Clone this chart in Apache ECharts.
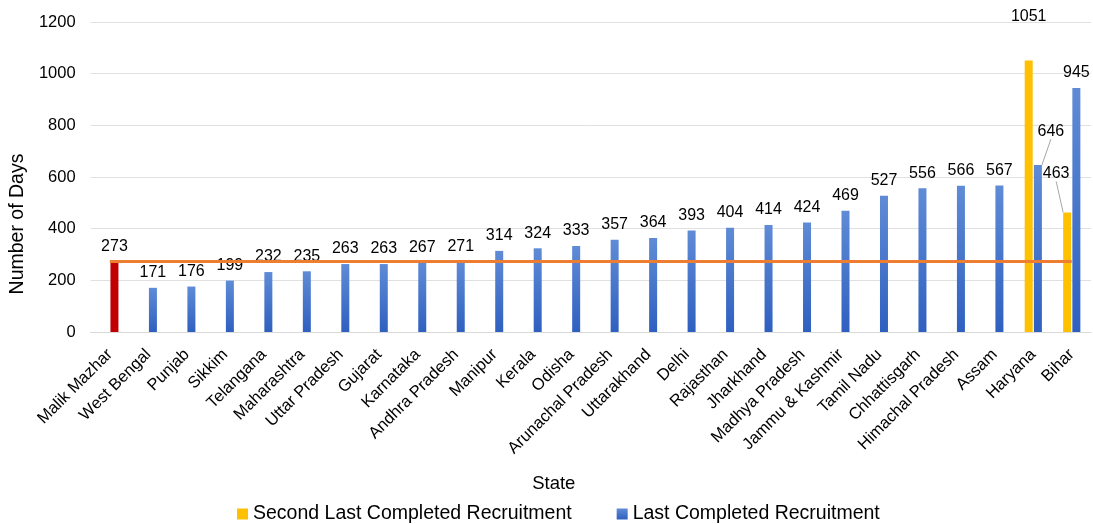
<!DOCTYPE html>
<html>
<head>
<meta charset="utf-8">
<script src="https://cdn.jsdelivr.net/npm/echarts@6/dist/echarts.min.js"></script>
<style>
  html, body { margin: 0; padding: 0; background: #fff; }
  #chart { width: 1093px; height: 524px; }
</style>
</head>
<body>
<div id="chart"></div>
<script>
var states = ['Malik Mazhar', 'West Bengal', 'Punjab', 'Sikkim', 'Telangana', 'Maharashtra',
    'Uttar Pradesh', 'Gujarat', 'Karnataka', 'Andhra Pradesh', 'Manipur', 'Kerala', 'Odisha',
    'Arunachal Pradesh', 'Uttarakhand', 'Delhi', 'Rajasthan', 'Jharkhand', 'Madhya Pradesh',
    'Jammu & Kashmir', 'Tamil Nadu', 'Chhattisgarh', 'Himachal Pradesh', 'Assam', 'Haryana', 'Bihar'];
var lastCompleted = [273, 171, 176, 199, 232, 235, 263, 263, 267, 271, 314, 324, 333, 357, 364,
    393, 404, 414, 424, 469, 527, 556, 566, 567, 646, 945];
var secondLast = ['-', '-', '-', '-', '-', '-', '-', '-', '-', '-', '-', '-', '-', '-', '-',
    '-', '-', '-', '-', '-', '-', '-', '-', '-', 1051, 463];
var benchmark = 273; // Malik Mazhar timeline
var yTicks = [0, 200, 400, 600, 800, 1000, 1200];

var font = 'Liberation Sans, Arial, sans-serif';
var blueGrad = new echarts.graphic.LinearGradient(0, 0, 0, 1, [
    { offset: 0, color: '#5f8bd6' },
    { offset: 1, color: '#2f60c0' }
]);
var leader = { show: true, lineStyle: { color: '#a6a6a6', width: 1 } };

var dom = document.getElementById('chart');
var myChart = echarts.init(dom);

var option = {
    animation: false,
    textStyle: { fontFamily: font },
    grid: { left: 87, right: 2, top: 22, bottom: 192 },
    legend: {
        bottom: -5,
        left: 232,
        itemWidth: 11,
        itemHeight: 11,
        itemGap: 45,
        icon: 'rect',
        textStyle: { fontSize: 19.5, color: '#000', fontFamily: font },
        data: ['Second Last Completed Recruitment', 'Last Completed Recruitment']
    },
    xAxis: {
        type: 'category',
        data: states,
        name: 'State',
        nameLocation: 'middle',
        nameGap: 142,
        nameTextStyle: { fontSize: 18.5, color: '#000', fontFamily: font, padding: [0, 74, 0, 0] },
        axisLine: { lineStyle: { color: '#d9d9d9' } },
        axisTick: { show: false },
        axisLabel: { interval: 0, rotate: 45, fontSize: 16.5, color: '#000', margin: 20, fontFamily: font }
    },
    yAxis: {
        type: 'value',
        min: yTicks[0],
        max: yTicks[yTicks.length - 1],
        interval: 200,
        name: 'Number of Days',
        nameLocation: 'middle',
        nameGap: 62,
        nameTextStyle: { fontSize: 19.5, color: '#000', fontFamily: font, padding: [0, 94, 0, 0] },
        axisLine: { show: false },
        axisTick: { show: false },
        axisLabel: { fontSize: 16.5, color: '#000', margin: 15, fontFamily: font,
            formatter: function (v) { return String(v); } },
        splitLine: { lineStyle: { color: '#e0e0e0' } }
    },
    series: [
        {
            name: 'Second Last Completed Recruitment',
            type: 'bar',
            data: secondLast.map(function (v, i) {
                return i === 25 ? { value: v, labelLine: leader } : v;
            }),
            barWidth: 8,
            barGap: '15%',
            itemStyle: { color: '#ffc000' },
            label: { show: true, position: 'top', fontSize: 16, color: '#000', distance: 7 },
            labelLayout: function (p) {
                if (p.dataIndex === 24) return { dy: -29 };
                if (p.dataIndex === 25) return { dx: -11, dy: -24 };
                return {};
            },
            z: 2
        },
        {
            name: 'Last Completed Recruitment',
            type: 'bar',
            data: lastCompleted.map(function (v, i) {
                if (i === 0) return { value: v, itemStyle: { color: '#c00000' } };
                if (i === 24) return { value: v, labelLine: leader };
                return v;
            }),
            barWidth: 8,
            itemStyle: { color: blueGrad },
            label: { show: true, position: 'top', fontSize: 16, color: '#000', distance: 7 },
            labelLayout: function (p) {
                if (p.dataIndex === 24) return { dx: 13, dy: -19 };
                return {};
            },
            z: 2
        },
        {
            name: 'benchmark',
            type: 'line',
            data: states.map(function () { return benchmark; }),
            symbol: 'none',
            lineStyle: { color: '#ed7d31', width: 3 },
            z: 5,
            silent: true
        }
    ]
};

if (option && typeof option === 'object') {
    myChart.setOption(option, true);
}
</script>
</body>
</html>
